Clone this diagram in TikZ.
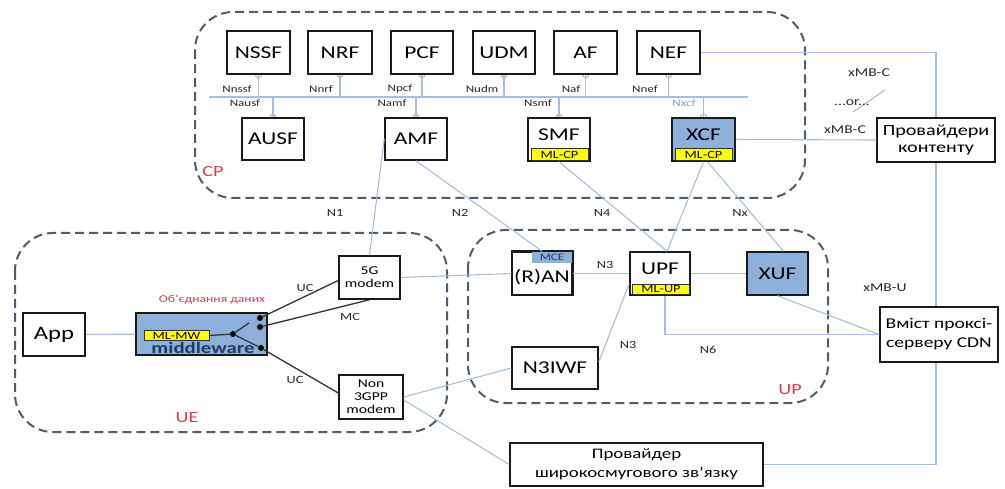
\documentclass[tikz,border=0pt]{standalone}
\usepackage{fontspec}
\setmainfont{Carlito}[FakeStretch=1.3]
\usetikzlibrary{calc}
\pgfdeclarelayer{bg}
\pgfsetlayers{bg,main}
\definecolor{cblue}{RGB}{166,191,222}
\definecolor{dashc}{RGB}{80,92,110}
\definecolor{lblue}{RGB}{141,176,219}
\definecolor{redl}{RGB}{225,60,80}
\definecolor{dblue}{RGB}{31,56,100}
\definecolor{ylw}{RGB}{255,255,0}
\definecolor{nxc}{RGB}{130,160,210}
\tikzset{
  box/.style={draw=black!90, line width=1.5pt, fill=white, inner sep=0pt,
    minimum width=63pt, minimum height=43pt, align=center,
    font=\fontsize{18}{20}\selectfont},
  smallbox/.style={box, font=\fontsize{12}{13}\selectfont},
  conn/.style={draw=cblue, line width=1.1pt},
  wire/.style={draw=black!80, line width=1.3pt},
  cont/.style={draw=dashc, line width=2pt, dash pattern=on 9pt off 5pt, rounded corners=38pt},
  ifl/.style={font=\fontsize{10}{11}\selectfont, text=black!85, inner sep=0pt},
  nl/.style={font=\fontsize{11}{12}\selectfont, text=black!85, inner sep=0pt},
  rl/.style={text=redl, font=\fontsize{15.5}{16}\selectfont, inner sep=0pt},
  band/.style={draw=black!80, line width=0.8pt, fill=ylw, inner sep=0pt,
    font=\fontsize{11}{12}\selectfont},
  dot/.style={circle, fill=black, inner sep=0pt, minimum size=6pt},
}
\begin{document}
\begin{tikzpicture}[x=1pt,y=-1pt]
\useasboundingbox (0,0) rectangle (1005,489);
% containers
\draw[cont] (195,12) rectangle (805,198);
\draw[cont] (15,233) rectangle (447,432);
\draw[cont] (468,230) rectangle (828,403);

% CP boxes
\node[box, minimum width=63pt] (nssf) at (258.5,52.5) {NSSF};
\node[box, minimum width=64pt] (nrf) at (340,52.5) {NRF};
\node[box, minimum width=62pt] (pcf) at (422,52.5) {PCF};
\node[box, minimum width=62pt] (udm) at (504,52.5) {UDM};
\node[box, minimum width=63pt] (af) at (585.5,52.5) {AF};
\node[box, minimum width=63pt] (nef) at (668.5,52.5) {NEF};
\node[box, minimum width=62pt, minimum height=42pt] (ausf) at (273,139) {AUSF};
\node[box, minimum width=62pt, minimum height=42pt] (amf) at (416,139) {AMF};
\node[box, minimum width=62pt] (smf) at (559,139.5) {};
\node[box, minimum width=63pt, fill=lblue] (xcf) at (703.5,139.5) {};
\node[band, minimum width=57pt, minimum height=12pt] (mlcp1) at (559.5,154.5) {ML-CP};
\node[band, minimum width=57pt, minimum height=12pt] (mlcp2) at (703.5,154.5) {ML-CP};
\node[font=\fontsize{18}{20}\selectfont, inner sep=0pt] at (559,135) {SMF};
\node[font=\fontsize{18}{20}\selectfont, inner sep=0pt] at (703.5,135) {XCF};

% bus
\coordinate (busL) at (209,97);
\coordinate (busR) at (748,97);
\draw[conn] (busL) -- (busR);
\foreach \n in {nssf,nrf,pcf,udm,af,nef}{
  \draw[conn] (\n.south) -- (\n.south |- busL);
  \begin{pgfonlayer}{bg}\draw[conn] (\n.south) circle (3pt);\end{pgfonlayer}
}
\foreach \n in {ausf,amf,smf,xcf}{
  \draw[conn] (\n.north) -- (\n.north |- busL);
  \begin{pgfonlayer}{bg}\draw[conn] (\n.north) circle (3pt);\end{pgfonlayer}
}
% interface labels
\node[ifl] at (237,89) {Nnssf};
\node[ifl] at (245,103) {Nausf};
\node[ifl] at (321,89) {Nnrf};
\node[ifl] at (400,89) {Npcf};
\node[ifl] at (392,103) {Namf};
\node[ifl] at (482,89) {Nudm};
\node[ifl] at (538,103) {Nsmf};
\node[ifl] at (571,89) {Naf};
\node[ifl] at (645,89) {Nnef};
\node[ifl, text=nxc] at (684,103) {Nxcf};
\node[rl] at (213,172) {CP};

% right side
\node[box, minimum width=118pt, minimum height=44pt, font=\fontsize{15.5}{17}\selectfont] (prov) at (936,140) {Провайдери\\контенту};
\node[box, minimum width=118pt, minimum height=55pt, font=\fontsize{15}{19}\selectfont] (cdn) at (939,334.5) {Вміст проксі-\\серверу CDN};
\node[box, minimum width=253pt, minimum height=43pt, font=\fontsize{14.5}{19}\selectfont] (bb) at (636.5,464.5) {Провайдер\\широкосмугового зв'язку};

% UE
\node[box, minimum width=62pt, font=\fontsize{19}{21}\selectfont] (app) at (54,334.5) {App};
\node[box, minimum width=131pt, minimum height=42pt, fill=lblue] (mw) at (201.5,334) {};
\node[band, minimum width=65pt, minimum height=10pt] (mlmw) at (176.5,335.5) {ML-MW};
\node[font=\bfseries\fontsize{16}{18}\selectfont, text=dblue, inner sep=0pt] at (203,347.5) {middleware};
\node[dot] (jd) at (233,334) {};
\node[dot] (d1) at (260,318) {};
\node[dot] (d2) at (260,327) {};
\node[dot] (d3) at (261,348) {};
\coordinate (sw) at (249,323);
\node[smallbox, minimum width=61pt] (g5) at (369.5,277.5) {5G\\modem};
\node[smallbox, minimum width=64pt, minimum height=44pt] (non) at (371,397) {Non\\3GPP\\modem};
\draw[wire] (mlmw.east) -- (jd);
\draw[wire] (jd) -- (sw);
\draw[wire] (jd) -- (d3);
\draw[wire] (d1) -- ($(g5.west)+(0,3)$);
\draw[wire] (d2) -- (g5.south);
\draw[wire] (d3) -- ($(non.west)+(0,-4)$);
\node[nl] at (305,288) {UC};
\node[nl] at (350,317) {MC};
\node[nl] at (295,380) {UC};
\node[text=redl, font=\fontsize{10.5}{11}\selectfont, inner sep=0pt] at (212,300) {Об'єднання даних};
\node[rl] at (187,418) {UE};

% UP
\node[box, minimum width=60pt] (ran) at (542,273.5) {};
\node[fill=lblue, inner sep=0pt, minimum width=40pt, minimum height=11pt, font=\fontsize{10}{11}\selectfont, text=dblue] (mce) at (552,257.5) {MCE};
\draw[black!90, line width=1.5pt] (ran.north west) rectangle (ran.south east);
\node[font=\fontsize{18}{20}\selectfont, inner sep=0pt] at (542,277) {(R)AN};
\node[box, minimum width=60pt] (upf) at (660,273.5) {};
\node[band, minimum width=57pt, minimum height=10pt] (mlup) at (661,289.5) {ML-UP};
\node[font=\fontsize{18}{20}\selectfont, inner sep=0pt] at (660,269) {UPF};
\node[box, minimum width=61pt, fill=lblue] (xuf) at (777.5,273.5) {XUF};
\node[box, minimum width=86pt, minimum height=42pt] (n3iwf) at (555,368) {N3IWF};
\node[rl] at (790,390) {UP};

% connectors
\draw[conn] (app) -- (mw);
\draw[conn] (g5.east) -- (ran.west);
\draw[conn] (amf.west) -- (g5.north);
\draw[conn] (amf.south) -- (ran.north);
\draw[conn] (smf.south) -- ($(upf.north)+(7,0)$);
\draw[conn] (xcf.south) -- ($(upf.north)+(7,0)$);
\draw[conn] ($(xcf.south)+(4,0)$) -- ($(xuf.north)+(6,0)$);
\draw[conn] (xcf.east) -- (prov.west);
\draw[conn] (nef.east) -| (prov.north);
\draw[conn] (prov.south) -- (prov.south |- cdn.north);
\draw[conn] (cdn.south -| prov.south) |- (bb.east);
\draw[conn] (ran.east) -- (upf.west);
\draw[conn] (upf.east) -- (xuf.west);
\draw[conn] ($(upf.south)+(5,0)$) |- (cdn.west);
\draw[conn] (xuf.south) -- (cdn.west);
\draw[conn] ($(n3iwf.east)+(0,-6)$) -- ($(upf.west)+(0,10)$);
\draw[conn] (non.east) -- (n3iwf.west);
\draw[conn] ($(non.east)+(0,3)$) -- (bb.west);
\coordinate (s1) at (853,112);
\coordinate (s2) at (885,90);
\draw[conn, draw=gray!55] (s1) -- (s2);

% link labels
\node[nl] at (335,213) {N1};
\node[nl] at (460,213) {N2};
\node[nl] at (602,213) {N4};
\node[nl] at (740,213) {Nx};
\node[nl] at (605,265) {N3};
\node[nl] at (628,345) {N3};
\node[nl] at (708,350) {N6};
\node[nl, font=\fontsize{12}{13}\selectfont] at (885,288) {xMB-U};
\node[nl, font=\fontsize{12}{13}\selectfont] at (869,73) {xMB-C};
\node[nl, font=\fontsize{12}{13}\selectfont] at (852,103) {...or...};
\node[nl, font=\fontsize{12}{13}\selectfont] at (845,130) {xMB-C};
\end{tikzpicture}
\end{document}
